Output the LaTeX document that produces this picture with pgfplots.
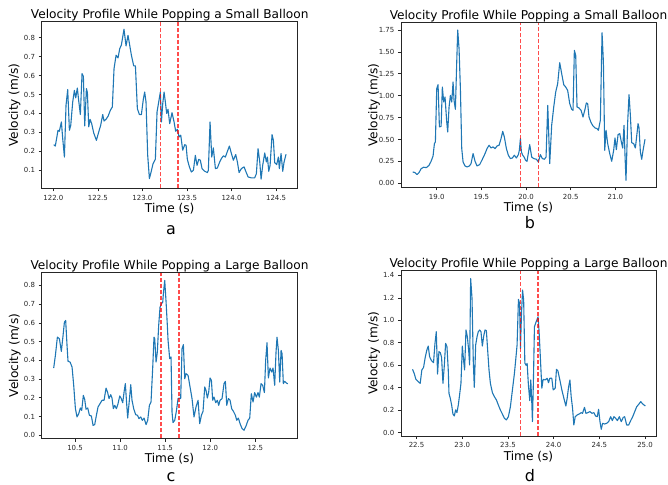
\documentclass[border=0pt]{standalone}
\usepackage{pgfplots}
\usepackage{pgfplotstable}
\pgfplotsset{compat=1.18}
\usepackage{fontspec}
\setmainfont{DejaVu Sans}
\definecolor{mplblue}{HTML}{1F77B4}

\pgfplotstableread{
t v
122.004 0.235
122.022 0.228
122.052 0.311
122.067 0.306
122.090 0.355
122.105 0.267
122.124 0.170
122.142 0.443
122.161 0.526
122.180 0.311
122.195 0.337
122.217 0.460
122.236 0.522
122.251 0.482
122.269 0.534
122.284 0.469
122.303 0.394
122.322 0.610
122.337 0.596
122.352 0.334
122.371 0.531
122.382 0.510
122.397 0.329
122.412 0.369
122.430 0.346
122.453 0.297
122.483 0.258
122.509 0.302
122.531 0.337
122.554 0.394
122.569 0.360
122.591 0.369
122.614 0.385
122.640 0.417
122.662 0.434
122.681 0.636
122.704 0.707
122.726 0.693
122.745 0.742
122.763 0.760
122.793 0.844
122.816 0.756
122.838 0.812
122.857 0.760
122.876 0.707
122.902 0.651
122.921 0.651
122.943 0.425
122.966 0.394
122.988 0.394
123.010 0.475
123.025 0.513
123.040 0.461
123.059 0.179
123.078 0.056
123.097 0.091
123.119 0.135
123.145 0.158
123.164 0.408
123.183 0.461
123.201 0.513
123.213 0.355
123.228 0.452
123.243 0.513
123.257 0.461
123.272 0.400
123.287 0.422
123.306 0.346
123.332 0.404
123.355 0.355
123.373 0.306
123.392 0.316
123.411 0.276
123.430 0.285
123.452 0.206
123.475 0.235
123.490 0.232
123.504 0.158
123.527 0.118
123.549 0.091
123.572 0.100
123.594 0.179
123.613 0.126
123.632 0.158
123.650 0.153
123.669 0.109
123.699 0.095
123.729 0.088
123.740 0.100
123.759 0.355
123.778 0.170
123.796 0.218
123.819 0.109
123.841 0.112
123.864 0.140
123.886 0.162
123.909 0.176
123.931 0.170
123.954 0.200
123.976 0.228
123.999 0.188
124.021 0.153
124.047 0.183
124.066 0.144
124.085 0.088
124.111 0.109
124.141 0.118
124.163 0.091
124.186 0.065
124.223 0.060
124.260 0.060
124.279 0.082
124.298 0.214
124.317 0.144
124.332 0.053
124.350 0.126
124.373 0.191
124.391 0.144
124.403 0.170
124.418 0.095
124.433 0.126
124.455 0.288
124.470 0.258
124.485 0.140
124.507 0.130
124.526 0.170
124.537 0.109
124.556 0.188
124.575 0.095
124.590 0.144
124.612 0.184
}\dataA

\pgfplotstableread{
t v
18.731 0.129
18.757 0.122
18.780 0.099
18.802 0.122
18.825 0.167
18.854 0.183
18.884 0.179
18.914 0.205
18.937 0.251
18.959 0.312
18.974 0.453
18.985 0.472
19.000 1.080
19.015 1.126
19.030 0.643
19.049 0.651
19.063 1.099
19.078 0.928
19.093 0.985
19.112 0.700
19.123 0.586
19.138 0.871
19.153 1.004
19.168 0.928
19.183 1.157
19.194 0.947
19.209 0.845
19.224 1.385
19.235 1.750
19.250 1.537
19.265 1.080
19.280 0.396
19.295 0.243
19.317 0.198
19.340 0.186
19.366 0.198
19.384 0.224
19.407 0.339
19.429 0.251
19.451 0.198
19.481 0.213
19.511 0.274
19.541 0.339
19.563 0.396
19.586 0.434
19.608 0.403
19.631 0.415
19.653 0.396
19.675 0.426
19.698 0.434
19.720 0.510
19.739 0.593
19.757 0.529
19.780 0.396
19.802 0.320
19.825 0.282
19.847 0.289
19.869 0.320
19.892 0.289
19.914 0.327
19.925 0.377
19.937 0.510
19.948 0.358
19.963 0.320
19.978 0.300
19.995 0.262
20.011 0.251
20.041 0.441
20.063 0.300
20.086 0.282
20.116 0.274
20.138 0.243
20.160 0.327
20.183 0.282
20.205 0.274
20.224 0.300
20.243 0.890
20.265 0.224
20.287 0.662
20.310 0.871
20.332 1.042
20.354 1.137
20.377 1.377
20.399 1.252
20.422 1.126
20.444 1.099
20.466 1.061
20.489 0.909
20.511 0.845
20.526 0.833
20.541 1.518
20.556 1.461
20.571 0.871
20.593 0.860
20.616 0.833
20.638 0.757
20.660 0.845
20.675 0.917
20.690 0.909
20.705 0.757
20.728 0.692
20.750 0.654
20.772 0.632
20.795 0.624
20.810 0.605
20.832 0.719
20.851 1.720
20.866 1.385
20.881 0.377
20.896 0.605
20.914 0.453
20.937 0.339
20.959 0.251
20.981 0.377
20.996 0.517
21.011 0.384
21.030 0.555
21.049 0.567
21.067 0.472
21.082 0.403
21.097 0.662
21.108 0.320
21.119 0.034
21.138 0.700
21.153 1.012
21.168 0.776
21.183 0.464
21.205 0.453
21.224 0.403
21.239 0.540
21.254 0.681
21.265 0.632
21.280 0.358
21.295 0.274
21.310 0.377
21.332 0.502
}\dataB

\pgfplotstableread{
t v
10.263 0.359
10.282 0.427
10.304 0.524
10.326 0.516
10.348 0.448
10.367 0.533
10.382 0.604
10.396 0.613
10.411 0.480
10.422 0.395
10.445 0.391
10.467 0.364
10.485 0.267
10.504 0.142
10.522 0.098
10.541 0.116
10.559 0.146
10.574 0.133
10.592 0.213
10.607 0.192
10.622 0.139
10.641 0.146
10.659 0.107
10.681 0.103
10.700 0.053
10.718 0.057
10.737 0.107
10.755 0.151
10.777 0.169
10.800 0.187
10.822 0.187
10.844 0.252
10.862 0.228
10.877 0.196
10.896 0.217
10.910 0.199
10.925 0.142
10.940 0.160
10.959 0.142
10.977 0.169
10.996 0.210
11.010 0.199
11.029 0.174
11.044 0.231
11.058 0.276
11.070 0.187
11.084 0.092
11.099 0.169
11.118 0.270
11.132 0.187
11.151 0.142
11.173 0.110
11.192 0.107
11.210 0.089
11.229 0.098
11.247 0.080
11.266 0.092
11.288 0.057
11.306 0.080
11.325 0.160
11.343 0.178
11.362 0.364
11.376 0.524
11.384 0.516
11.399 0.391
11.413 0.444
11.428 0.587
11.443 0.684
11.458 0.702
11.473 0.711
11.480 0.756
11.495 0.827
11.510 0.711
11.524 0.587
11.532 0.507
11.550 0.409
11.565 0.418
11.576 0.124
11.587 0.068
11.606 0.080
11.624 0.128
11.643 0.196
11.658 0.199
11.672 0.196
11.687 0.462
11.702 0.484
11.717 0.302
11.732 0.329
11.754 0.320
11.776 0.258
11.798 0.196
11.820 0.098
11.842 0.151
11.865 0.187
11.883 0.062
11.902 0.107
11.920 0.128
11.939 0.258
11.953 0.240
11.968 0.199
11.983 0.231
11.998 0.306
12.013 0.293
12.027 0.187
12.042 0.204
12.061 0.174
12.079 0.187
12.094 0.160
12.109 0.187
12.131 0.196
12.153 0.276
12.168 0.288
12.183 0.160
12.201 0.196
12.220 0.187
12.238 0.142
12.257 0.128
12.279 0.107
12.294 0.080
12.312 0.092
12.331 0.062
12.353 0.036
12.375 0.027
12.397 0.050
12.419 0.080
12.438 0.092
12.456 0.222
12.475 0.178
12.493 0.228
12.512 0.204
12.530 0.228
12.545 0.204
12.564 0.276
12.582 0.267
12.601 0.228
12.615 0.400
12.630 0.494
12.645 0.306
12.663 0.359
12.682 0.338
12.697 0.359
12.715 0.267
12.730 0.444
12.741 0.524
12.756 0.453
12.771 0.284
12.786 0.453
12.797 0.436
12.811 0.276
12.826 0.288
12.845 0.279
12.860 0.275
}\dataC

\pgfplotstableread{
t v
22.456 0.564
22.474 0.528
22.493 0.475
22.518 0.454
22.540 0.439
22.558 0.558
22.577 0.581
22.595 0.670
22.613 0.736
22.628 0.771
22.643 0.676
22.664 0.641
22.686 0.623
22.701 0.789
22.716 0.899
22.730 0.522
22.745 0.721
22.760 0.712
22.774 0.670
22.789 0.439
22.803 0.587
22.818 0.795
22.833 0.765
22.847 0.558
22.855 0.350
22.869 0.306
22.884 0.246
22.898 0.166
22.913 0.148
22.928 0.202
22.942 0.178
22.957 0.246
22.971 0.335
22.986 0.439
23.001 0.771
23.015 0.641
23.026 0.558
23.041 0.914
23.056 0.854
23.070 0.736
23.081 0.602
23.092 1.373
23.107 1.196
23.121 0.632
23.132 0.403
23.147 0.780
23.162 0.854
23.176 0.899
23.191 0.914
23.205 0.899
23.220 0.771
23.235 0.860
23.249 0.914
23.264 0.908
23.278 0.736
23.293 0.558
23.308 0.439
23.330 0.356
23.352 0.320
23.374 0.291
23.395 0.246
23.417 0.202
23.439 0.166
23.461 0.128
23.483 0.113
23.505 0.142
23.527 0.231
23.549 0.380
23.571 0.528
23.585 0.647
23.600 0.780
23.615 1.187
23.627 1.151
23.637 0.750
23.648 1.050
23.660 1.270
23.672 1.180
23.685 0.620
23.698 0.600
23.710 0.617
23.724 0.424
23.739 0.285
23.750 0.469
23.761 0.267
23.768 0.098
23.779 0.469
23.790 0.943
23.805 0.979
23.819 1.009
23.830 1.032
23.841 0.899
23.856 0.647
23.871 0.395
23.885 0.475
23.907 0.469
23.929 0.484
23.944 0.445
23.958 0.484
23.980 0.484
23.995 0.380
24.017 0.395
24.031 0.564
24.046 0.552
24.068 0.469
24.090 0.380
24.112 0.306
24.134 0.237
24.148 0.306
24.163 0.403
24.178 0.469
24.192 0.320
24.207 0.217
24.221 0.068
24.236 0.142
24.258 0.157
24.280 0.166
24.302 0.178
24.316 0.172
24.338 0.225
24.353 0.172
24.375 0.178
24.397 0.187
24.419 0.172
24.441 0.178
24.459 0.148
24.477 0.142
24.492 0.208
24.507 0.098
24.521 0.030
24.536 0.083
24.558 0.077
24.580 0.083
24.602 0.098
24.624 0.142
24.642 0.107
24.660 0.142
24.678 0.128
24.697 0.107
24.719 0.142
24.740 0.098
24.762 0.136
24.777 0.142
24.799 0.068
24.821 0.068
24.843 0.107
24.865 0.142
24.887 0.187
24.909 0.231
24.931 0.252
24.953 0.276
24.975 0.255
25.004 0.237
}\dataD

\pgfplotsset{
  panel/.style={
    scale only axis,
    anchor=south west,
    axis line style={line width=0.7bp, black!85},
    tick style={line width=0.7bp, black!85},
    tick align=outside,
    major tick length=3.2bp,
    tick pos=left,
    scaled ticks=false,
    ticklabel style={font=\fontsize{7}{8}\selectfont, text=black!85},
    /pgf/number format/assume math mode=true,
    xticklabel style={/pgf/number format/.cd, fixed, fixed zerofill, precision=1},
    every axis title/.style={at={(axis description cs:0.5,1.0204)}, anchor=base, font=\fontsize{12.2}{14}\selectfont},
    every axis x label/.style={at={(axis description cs:0.5,-0.1465)}, anchor=base, font=\fontsize{12.2}{14}\selectfont},
    every axis y label/.style={at={(axis description cs:-0.0926,0.5)}, rotate=90, anchor=base, font=\fontsize{12.2}{14}\selectfont},
    xlabel={Time (s)},
    ylabel={Velocity (m/s)},
  },
  vel/.style={mplblue, line width=1.1bp, line join=round, no marks},
  pop/.style={red, opacity=0.7, line width=1.5bp, dash pattern=on 4.2bp off 1.8bp, no marks},
}

\begin{document}
\begin{tikzpicture}
\useasboundingbox (0,0) rectangle (668bp,485bp);

% panel a
\begin{axis}[panel, at={(41.7bp,296.7bp)}, width=256bp, height=166.6bp,
  xmin=121.869, xmax=124.743, ymin=0.005, ymax=0.884,
  xtick={122.0,122.5,123.0,123.5,124.0,124.5},
  ytick={0.1,0.2,0.3,0.4,0.5,0.6,0.7,0.8},
  yticklabel style={/pgf/number format/.cd, fixed, fixed zerofill, precision=1},
  title={Velocity Profile While Popping a Small Balloon}]
\addplot[vel] table[x=t, y=v] {\dataA};
\addplot[pop] coordinates {(123.2,0.005) (123.2,0.884)};
\addplot[pop] coordinates {(123.4,0.005) (123.4,0.884)};
\end{axis}

% panel b
\begin{axis}[panel, at={(401bp,297.7bp)}, width=255bp, height=164.6bp,
  xmin=18.60, xmax=21.455, ymin=-0.046, ymax=1.834,
  xtick={19.0,19.5,20.0,20.5,21.0},
  ytick={0,0.25,0.5,0.75,1.0,1.25,1.5,1.75},
  yticklabel style={/pgf/number format/.cd, fixed, fixed zerofill, precision=2},
  title={Velocity Profile While Popping a Small Balloon}]
\addplot[vel] table[x=t, y=v] {\dataB};
\addplot[pop] coordinates {(19.94,-0.046) (19.94,1.834)};
\addplot[pop] coordinates {(20.14,-0.046) (20.14,1.834)};
\end{axis}

% panel c
\begin{axis}[panel, at={(41.7bp,46.7bp)}, width=255.6bp, height=165.6bp,
  xmin=10.13, xmax=12.966, ymin=-0.016, ymax=0.868,
  xtick={10.5,11.0,11.5,12.0,12.5},
  ytick={0,0.1,0.2,0.3,0.4,0.5,0.6,0.7,0.8},
  yticklabel style={/pgf/number format/.cd, fixed, fixed zerofill, precision=1},
  title={Velocity Profile While Popping a Large Balloon}]
\addplot[vel] table[x=t, y=v] {\dataC};
\addplot[pop] coordinates {(11.456,-0.016) (11.456,0.868)};
\addplot[pop] coordinates {(11.655,-0.016) (11.655,0.868)};
\end{axis}

% panel d
\begin{axis}[panel, at={(401bp,49bp)}, width=255bp, height=165.3bp,
  xmin=22.33, xmax=25.12, ymin=-0.03, ymax=1.442,
  xtick={22.5,23.0,23.5,24.0,24.5,25.0},
  ytick={0,0.2,0.4,0.6,0.8,1.0,1.2,1.4},
  yticklabel style={/pgf/number format/.cd, fixed, fixed zerofill, precision=1},
  title={Velocity Profile While Popping a Large Balloon}]
\addplot[vel] table[x=t, y=v] {\dataD};
\addplot[pop] coordinates {(23.635,-0.03) (23.635,1.442)};
\addplot[pop] coordinates {(23.83,-0.03) (23.83,1.442)};
\end{axis}

\node[anchor=base, font=\fontsize{16}{18}\selectfont] at (171bp,250bp) {a};
\node[anchor=base, font=\fontsize{16}{18}\selectfont] at (530bp,256.7bp) {b};
\node[anchor=base, font=\fontsize{16}{18}\selectfont] at (171bp,3.3bp) {c};
\node[anchor=base, font=\fontsize{16}{18}\selectfont] at (530bp,4bp) {d};
\end{tikzpicture}
\end{document}
